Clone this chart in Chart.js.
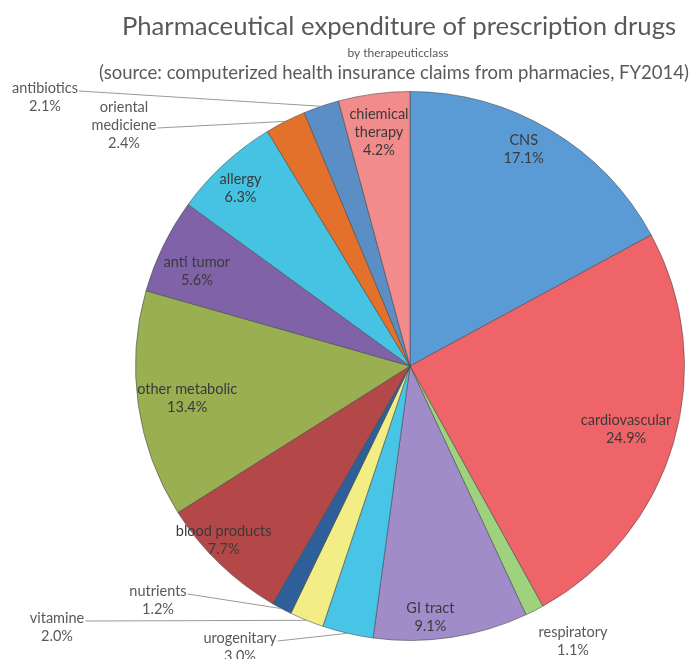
<!DOCTYPE html>
<html>
<head>
<meta charset="utf-8">
<script src="https://cdn.jsdelivr.net/npm/chart.js@4/dist/chart.umd.min.js"></script>
<style>
  html, body { margin: 0; padding: 0; background: #fff; }
  #wrap { width: 693px; height: 659px; }
</style>
</head>
<body>
<div id="wrap"><canvas id="pieChart" width="693" height="659"></canvas></div>
<script>
// Therapeutic classes, clockwise from 12 o'clock
const categories = [
  'CNS', 'cardiovascular', 'respiratory', 'GI tract', 'urogenitary', 'vitamine',
  'nutrients', 'blood products', 'other metabolic', 'anti tumor', 'allergy',
  'oriental\nmediciene', 'antibiotics', 'chiemical\ntherapy',
];
// Share of expenditure (%)
const shares = [17.1, 24.9, 1.1, 9.1, 3.0, 2.0, 1.2, 7.7, 13.4, 5.6, 6.3, 2.4, 2.1, 4.2];

const sliceColors = [
  '#5b9bd5', '#ef6468', '#9fd27c', '#a08cc8', '#48c4e6', '#f2ee85', '#2f5f98',
  '#b44848', '#9aae52', '#8062a8', '#46c3e2', '#e3712b', '#5a8ec4', '#f18b8c',
];

const titleText = 'Pharmaceutical expenditure of prescription drugs';
const subtitleText = 'by therapeuticclass';
const sourceText = '(source: computerized health insurance claims from pharmacies, FY2014)';

const textColor = '#595959';
const labelFont = '14.5px Lato, "Open Sans", sans-serif';

// Labels drawn outside the pie, with optional leader lines
const outsideLabels = {
  'respiratory': { x: 573, y: 632, line: false },
  'urogenitary': { x: 240, y: 638, line: true },
  'vitamine': { x: 57, y: 618, line: true },
  'nutrients': { x: 158, y: 591, line: true },
  'oriental\nmediciene': { x: 124, y: 107, line: true },
  'antibiotics': { x: 45, y: 88, line: true },
};

// Fine placement of the labels inside the slices (radius fraction, angle shift in degrees)
const insideNudge = {
  'CNS': { r: 0.89, a: -3 },
  'cardiovascular': { r: 0.82, a: 0 },
  'GI tract': { r: 0.92, a: 4 },
  'blood products': { r: 0.93, a: 3 },
  'other metabolic': { r: 0.82, a: 0 },
  'anti tumor': { r: 0.85, a: -2 },
  'allergy': { r: 0.895, a: -1 },
};

const titlePlugin = {
  id: 'titles',
  afterDraw(chart) {
    const ctx = chart.ctx;
    ctx.save();
    ctx.fillStyle = textColor;
    ctx.textAlign = 'center';
    ctx.textBaseline = 'middle';
    ctx.font = '25.7px Lato, "Open Sans", sans-serif';
    ctx.fillText(titleText, 399, 27);
    ctx.font = '12px Lato, "Open Sans", sans-serif';
    ctx.fillText(subtitleText, 398, 53);
    ctx.font = '18.5px Lato, "Open Sans", sans-serif';
    ctx.fillText(sourceText, 394, 73);
    ctx.restore();
  },
};

const sliceLabelPlugin = {
  id: 'sliceLabels',
  afterDatasetsDraw(chart) {
    const ctx = chart.ctx;
    const meta = chart.getDatasetMeta(0);
    const lineGap = 18;
    ctx.save();
    ctx.font = labelFont;
    ctx.textAlign = 'center';
    ctx.textBaseline = 'middle';

    meta.data.forEach((arc, i) => {
      const { x, y, startAngle, endAngle, outerRadius } = arc.getProps(
        ['x', 'y', 'startAngle', 'endAngle', 'outerRadius'], true);
      const mid = (startAngle + endAngle) / 2;
      const lines = categories[i].split('\n').concat(shares[i].toFixed(1) + '%');
      const outside = outsideLabels[categories[i]];

      if (outside) {
        ctx.fillStyle = textColor;
        lines.forEach((t, k) => ctx.fillText(t, outside.x, outside.y + k * lineGap));
        if (outside.line) {
          // leader line starts at the end of the last name line
          const k = lines.length - 2;
          const w = ctx.measureText(lines[k]).width;
          const sx = outside.x + w / 2 + 1;
          const sy = outside.y + k * lineGap + 3;
          const ex = x + Math.cos(mid) * outerRadius;
          const ey = y + Math.sin(mid) * outerRadius;
          ctx.strokeStyle = '#9a9a9a';
          ctx.lineWidth = 1;
          ctx.beginPath();
          ctx.moveTo(sx, sy);
          ctx.lineTo(ex, ey);
          ctx.stroke();
        }
        return;
      }

      const nudge = insideNudge[categories[i]] || { r: 0.86, a: 0 };
      const ang = mid + (nudge.a * Math.PI) / 180;
      const r = outerRadius * nudge.r;
      const cx = x + Math.cos(ang) * r;
      const cy = y + Math.sin(ang) * r;
      const top = cy - ((lines.length - 1) * lineGap) / 2;
      ctx.fillStyle = '#3a3a3a';
      lines.forEach((t, k) => ctx.fillText(t, cx, top + k * lineGap));
    });
    ctx.restore();
  },
};

new Chart(document.getElementById('pieChart').getContext('2d'), {
  type: 'pie',
  data: {
    labels: categories,
    datasets: [
      {
        data: shares,
        backgroundColor: sliceColors,
        borderColor: 'rgba(70, 70, 70, 0.55)',
        borderWidth: 1,
      },
    ],
  },
  options: {
    responsive: false,
    devicePixelRatio: 1,
    animation: false,
    layout: {
      padding: { left: 135, right: 8, top: 91, bottom: 18 },
    },
    plugins: {
      legend: { display: false },
      tooltip: { enabled: false },
    },
  },
  plugins: [sliceLabelPlugin, titlePlugin],
});
</script>
</body>
</html>
